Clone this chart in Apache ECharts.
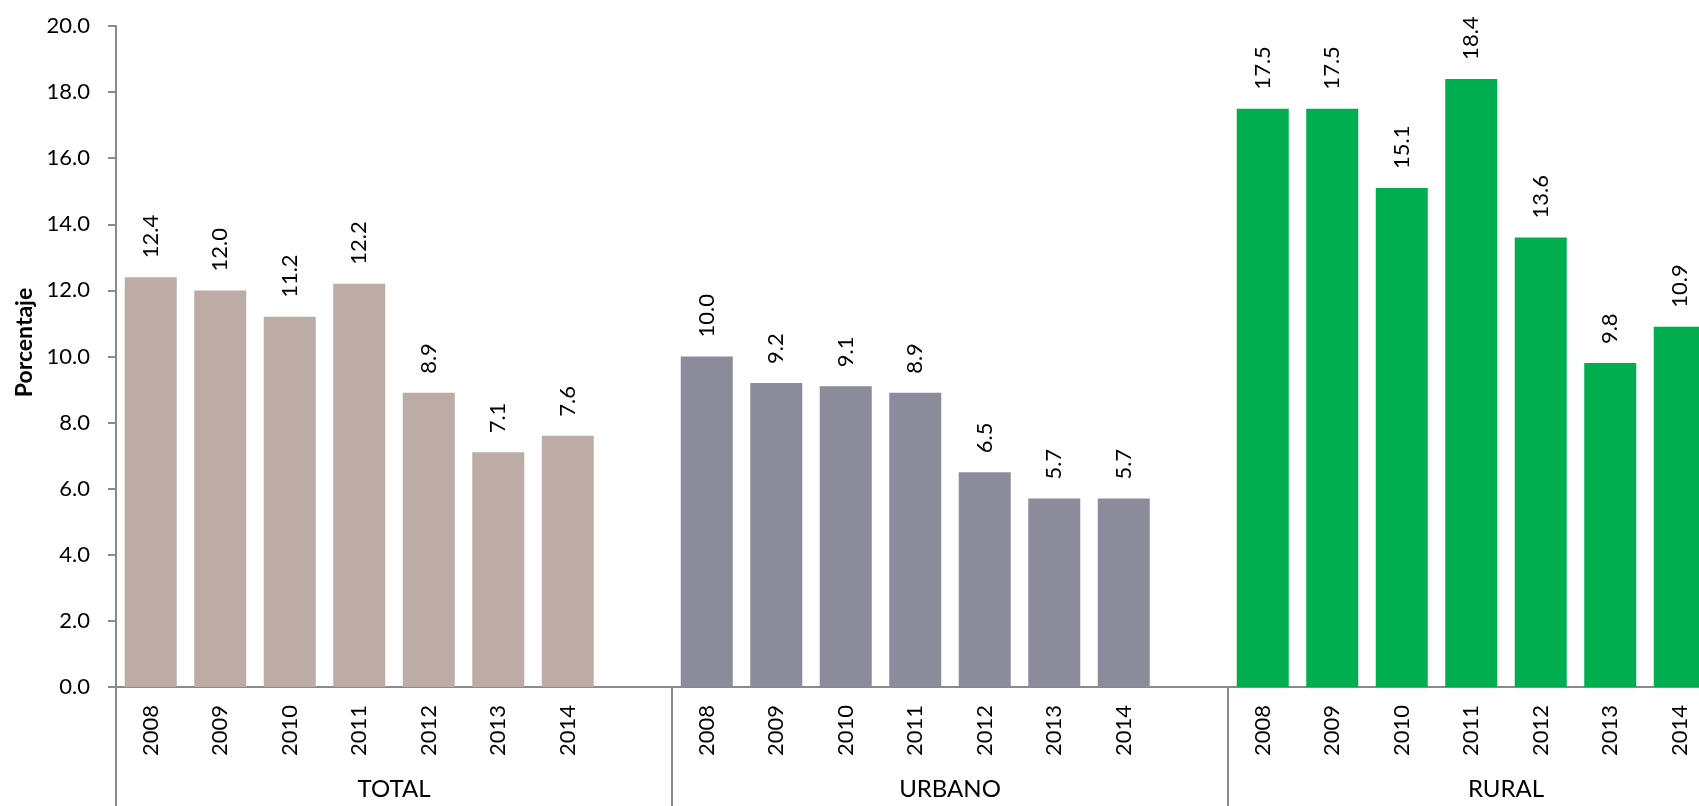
<!DOCTYPE html>
<html>
<head>
<meta charset="utf-8">
<script src="https://cdn.jsdelivr.net/npm/echarts@6/dist/echarts.min.js"></script>
<style>
  html, body { margin: 0; padding: 0; background: #fff; }
  #chart { width: 1699px; height: 806px; }
</style>
</head>
<body>
<div id="chart"></div>
<script>
// datos
var groups = ['TOTAL', 'URBANO', 'RURAL'];
var years = ['2008', '2009', '2010', '2011', '2012', '2013', '2014'];
var totalValues = [12.4, 12.0, 11.2, 12.2, 8.9, 7.1, 7.6];
var urbanoValues = [10.0, 9.2, 9.1, 8.9, 6.5, 5.7, 5.7];
var ruralValues = [17.5, 17.5, 15.1, 18.4, 13.6, 9.8, 10.9];
var yTicks = { min: 0, max: 20, step: 2 };

var groupValues = [totalValues, urbanoValues, ruralValues];
var colors = ['#bcaca5', '#8c8b9c', '#00ad4f'];
var font = 'Lato, "DejaVu Sans", sans-serif';
var gris = '#8a8a8a';

// cada grupo: 7 años + una casilla vacía
var categories = [];
groups.forEach(function() {
    categories = categories.concat(years, ['']);
});

var series = groupValues.map(function(vals, g) {
    var data = [];
    groups.forEach(function(name, k) {
        var block = years.map(function(y, i) { return k === g ? vals[i] : '-'; });
        data = data.concat(block, ['-']);
    });
    return {
        name: groups[g],
        type: 'bar',
        xAxisIndex: 0,
        data: data,
        barWidth: 52,
        barGap: '-100%',
        itemStyle: { color: colors[g] },
        label: {
            show: true,
            position: 'top',
            rotate: 90,
            align: 'left',
            verticalAlign: 'middle',
            distance: 19,
            color: '#000',
            fontFamily: font,
            fontSize: 22,
            formatter: function(p) { return p.value.toFixed(1); }
        }
    };
});

var chart = echarts.init(document.getElementById('chart'));
chart.setOption({
    animation: false,
    grid: { left: 116, top: 26, width: 1668, height: 661, outerBoundsMode: 'none', containLabel: false },
    xAxis: [{
        type: 'category',
        data: categories,
        position: 'bottom',
        axisLine: { lineStyle: { color: gris, width: 2 } },
        axisTick: { show: false },
        axisLabel: {
            interval: 0, rotate: 90, margin: 18,
            color: '#000', fontFamily: font, fontSize: 22
        }
    }, {
        type: 'category',
        data: groups,
        position: 'bottom',
        axisLine: { show: false },
        axisTick: { show: true, length: 125, lineStyle: { color: gris, width: 2 } },
        axisLabel: {
            interval: 0, margin: 90,
            color: '#000', fontFamily: font, fontSize: 24
        }
    }],
    yAxis: {
        type: 'value',
        min: yTicks.min,
        max: yTicks.max,
        interval: yTicks.step,
        name: 'Porcentaje',
        nameLocation: 'middle',
        nameGap: 76,
        nameTextStyle: { color: '#000', fontFamily: font, fontSize: 23, fontWeight: 'bold', padding: [0, 0, 0, 28] },
        axisLine: { show: true, lineStyle: { color: gris, width: 2 } },
        axisTick: { show: true, length: 8, lineStyle: { color: gris, width: 2 } },
        splitLine: { show: false },
        axisLabel: {
            margin: 26, color: '#000', fontFamily: font, fontSize: 22,
            formatter: function(v) { return v.toFixed(1); }
        }
    },
    series: series
});
</script>
</body>
</html>
